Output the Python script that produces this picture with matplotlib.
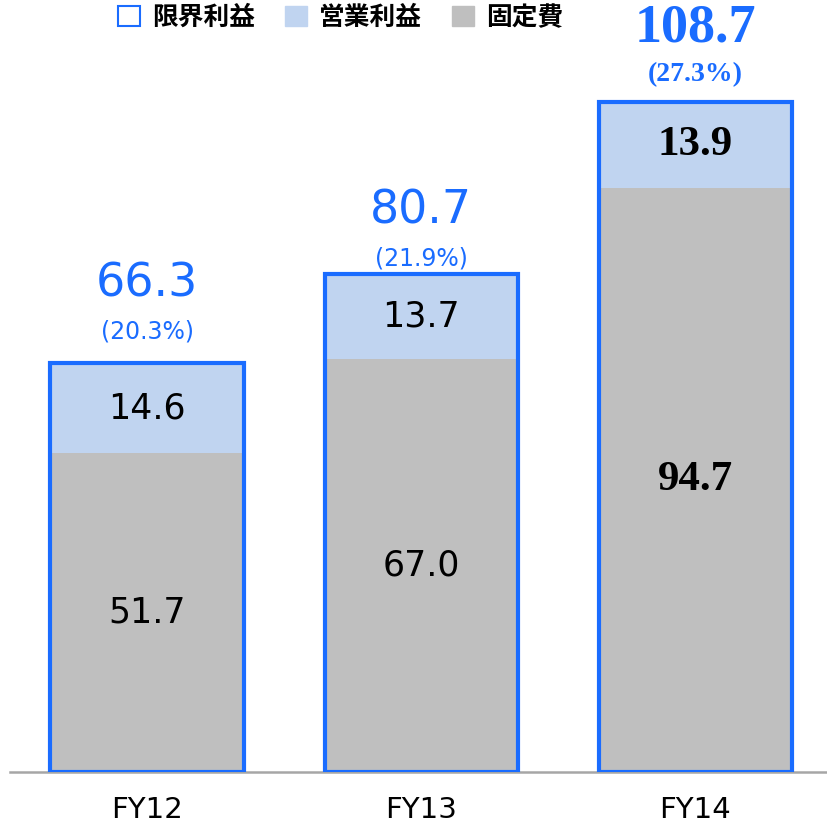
import matplotlib.pyplot as plt
from matplotlib.patches import Patch

years = ["FY12", "FY13", "FY14"]
fixed_cost = [51.7, 67.0, 94.7]
op_profit = [14.6, 13.7, 13.9]
marginal = [66.3, 80.7, 108.7]
margin_pct = ["(20.3%)", "(21.9%)", "(27.3%)"]
legend_labels = ["限界利益", "営業利益", "固定費"]

BLUE = "#1a6cff"
LIGHT = "#c0d4f0"
GRAY = "#bfbfbf"

# label offsets above each bar top, in points (value, percent)
offsets = [(57, 23), (46, 11.5), (53, 19.5)]

fig = plt.figure(figsize=(8.27, 8.25), dpi=100)
ax = fig.add_axes([0.0121, 0.0642, 0.9879, 0.9358])

x = list(range(len(years)))
w = 0.705
ax.bar(x, fixed_cost, width=w, color=GRAY, zorder=2)
ax.bar(x, op_profit, width=w, bottom=fixed_cost, color=LIGHT, zorder=2)
ax.bar(x, marginal, width=w, fill=False, edgecolor=BLUE, linewidth=3, zorder=3)

for i in x:
    last = i == len(years) - 1
    if last:
        kw_big = dict(family="Liberation Serif", weight="bold", fontsize=39)
        kw_pct = dict(family="Liberation Serif", weight="bold", fontsize=20)
        kw_seg = dict(family="Liberation Serif", weight="bold", fontsize=31)
    else:
        kw_big = dict(family="DejaVu Sans", fontsize=33)
        kw_pct = dict(family="DejaVu Sans", fontsize=17)
        kw_seg = dict(family="DejaVu Sans", fontsize=25)
    off_big, off_pct = offsets[i]
    ax.annotate(f"{marginal[i]:.1f}", (i, marginal[i]), xytext=(0, off_big),
                textcoords="offset points", ha="center", va="center",
                color=BLUE, **kw_big)
    ax.annotate(margin_pct[i], (i, marginal[i]), xytext=(0, off_pct),
                textcoords="offset points", ha="center", va="center",
                color=BLUE, **kw_pct)
    ax.text(i, fixed_cost[i] / 2, f"{fixed_cost[i]:.1f}", ha="center",
            va="center", color="black", zorder=4, **kw_seg)
    ax.text(i, fixed_cost[i] + op_profit[i] / 2, f"{op_profit[i]:.1f}",
            ha="center", va="center", color="black", zorder=4, **kw_seg)

ax.set_xlim(-0.5, 2.48)
ax.set_ylim(0, 125.2)
ax.set_yticks([])
ax.set_xticks(x)
ax.set_xticklabels(years, fontsize=21, family="DejaVu Sans")
ax.tick_params(axis="x", length=0, pad=17)
for s in ["top", "left", "right"]:
    ax.spines[s].set_visible(False)
ax.spines["bottom"].set_color("#a6a6a6")
ax.spines["bottom"].set_linewidth(1.8)

handles = [
    Patch(facecolor="white", edgecolor=BLUE, linewidth=1.5),
    Patch(facecolor=LIGHT, edgecolor=LIGHT),
    Patch(facecolor=GRAY, edgecolor=GRAY),
]
fig.legend(handles, legend_labels, loc="center", bbox_to_anchor=(0.412, 0.979),
           ncol=3, frameon=False, handlelength=0.85, handleheight=0.85,
           handletextpad=0.47, columnspacing=1.17,
           prop={"family": "Noto Sans CJK JP", "weight": "bold", "size": 18.5})

fig.savefig("out.png", dpi=100)
